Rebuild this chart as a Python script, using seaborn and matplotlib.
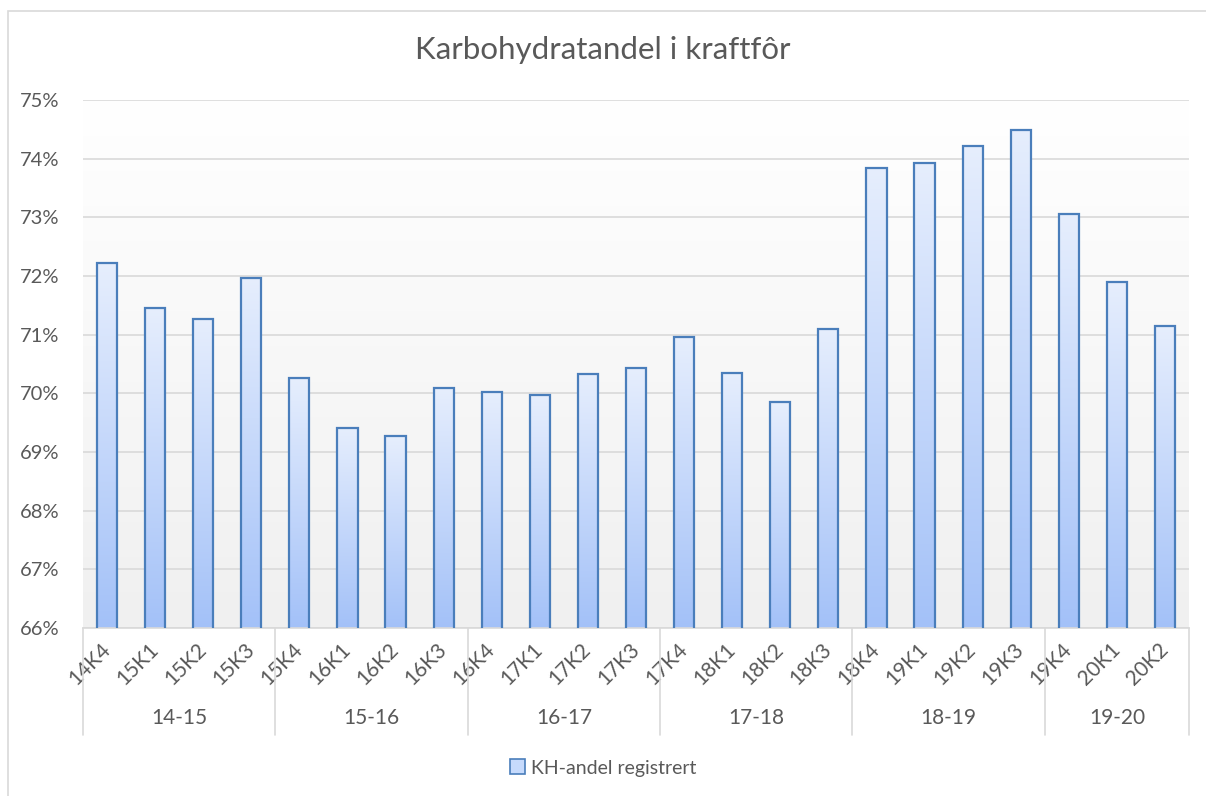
import numpy as np
import pandas as pd
import seaborn as sns
import matplotlib.pyplot as plt
from matplotlib.patches import Patch, Rectangle
from matplotlib.colors import LinearSegmentedColormap
import matplotlib.transforms as mtransforms

# data
quarters = ["14K4", "15K1", "15K2", "15K3", "15K4", "16K1", "16K2", "16K3",
            "16K4", "17K1", "17K2", "17K3", "17K4", "18K1", "18K2", "18K3",
            "18K4", "19K1", "19K2", "19K3", "19K4", "20K1", "20K2"]
kh_share = [72.22, 71.45, 71.27, 71.97, 70.26, 69.41, 69.27, 70.09,
            70.02, 69.97, 70.33, 70.43, 70.96, 70.35, 69.85, 71.10,
            73.84, 73.93, 74.22, 74.49, 73.06, 71.90, 71.15]
seasons = ["14-15", "15-16", "16-17", "17-18", "18-19", "19-20"]
season_size = [4, 4, 4, 4, 4, 3]

df = pd.DataFrame({"kvartal": quarters, "andel": kh_share})

sns.set_theme(style="white")
plt.rcParams['font.family'] = ['Lato', 'DejaVu Sans']
txt = '#595959'

fig = plt.figure(figsize=(12.06, 7.96), dpi=100)
W, H = 1206, 796
ax = fig.add_axes([83 / W, 1 - 628 / H, (1189 - 83) / W, (628 - 100) / H])

# outer chart border
fig.patches.append(Rectangle((8 / W, -0.01), 1.02, 1 - 10.5 / H + 0.01,
                             transform=fig.transFigure, fill=False,
                             edgecolor='#d9d9d9', lw=1.2))

ymin, ymax = 66, 75
ax.set_ylim(ymin, ymax)
ax.set_xlim(-0.5, len(quarters) - 0.5)

# plot area gradient (white top, light grey bottom)
bg = LinearSegmentedColormap.from_list("bg", ["#f0f0f0", "#ffffff"])
ax.imshow(np.linspace(0, 1, 256).reshape(-1, 1), cmap=bg, aspect='auto',
          extent=[-0.5, len(quarters) - 0.5, ymin, ymax], origin='lower', zorder=0)

sns.barplot(data=df, x="kvartal", y="andel", width=0.42, ax=ax,
            facecolor='none', edgecolor='#4a7ebb', linewidth=1.6, zorder=3)

bar_cmap = LinearSegmentedColormap.from_list("bar", ["#a3c1f8", "#e6eefd"])
for p in ax.patches:
    x0 = p.get_x()
    x1 = x0 + p.get_width()
    top = p.get_height()
    ax.imshow(np.linspace(0, 1, 256).reshape(-1, 1), cmap=bar_cmap, aspect='auto',
              extent=[x0, x1, ymin, top], origin='lower', zorder=2)
ax.set_xlim(-0.5, len(quarters) - 0.5)
ax.set_ylim(ymin, ymax)

ax.set_yticks(range(66, 76))
ax.set_yticklabels([f"{v}%" for v in range(66, 76)], fontsize=14.5, color=txt)
ax.yaxis.grid(True, color='#d9d9d9', lw=1.2, zorder=1)
ax.set_axisbelow(True)
for s in ["top", "right", "left"]:
    ax.spines[s].set_visible(False)
ax.spines["bottom"].set_color('#d9d9d9')
ax.spines["bottom"].set_linewidth(1.2)
ax.tick_params(axis='y', length=0, pad=17)
ax.tick_params(axis='x', length=0, pad=13)
ax.set_xlabel("")
ax.set_ylabel("")
for lab in ax.get_xticklabels():
    lab.set_rotation(45)
    lab.set_ha('right')
    lab.set_va('center')
    lab.set_rotation_mode('anchor')
    lab.set_fontsize(15)
    lab.set_color(txt)

# season groups below the quarter labels
trans = mtransforms.blended_transform_factory(ax.transData, ax.transAxes)
edges = np.concatenate([[0], np.cumsum(season_size)]) - 0.5
for e in edges:
    ax.plot([e, e], [0, -0.203], transform=trans, color='#d9d9d9', lw=1.2,
            clip_on=False)
for i, s in enumerate(seasons):
    ax.text((edges[i] + edges[i + 1]) / 2, -0.17, s, transform=trans,
            ha='center', va='center', fontsize=15, color=txt)

fig.text(0.5, 1 - 50 / H, "Karbohydratandel i kraftfôr", ha='center', va='center',
         fontsize=22.5, color=txt)

fig.legend(handles=[Patch(facecolor='#c6dafc', edgecolor='#4a7ebb', lw=1.2,
                          label="KH-andel registrert")],
           loc='center', bbox_to_anchor=(0.5, 1 - 768 / H), frameon=False,
           fontsize=14, labelcolor=txt, handlelength=0.8, handleheight=0.8,
           handletextpad=0.3)

fig.savefig("out.png", dpi=100)
